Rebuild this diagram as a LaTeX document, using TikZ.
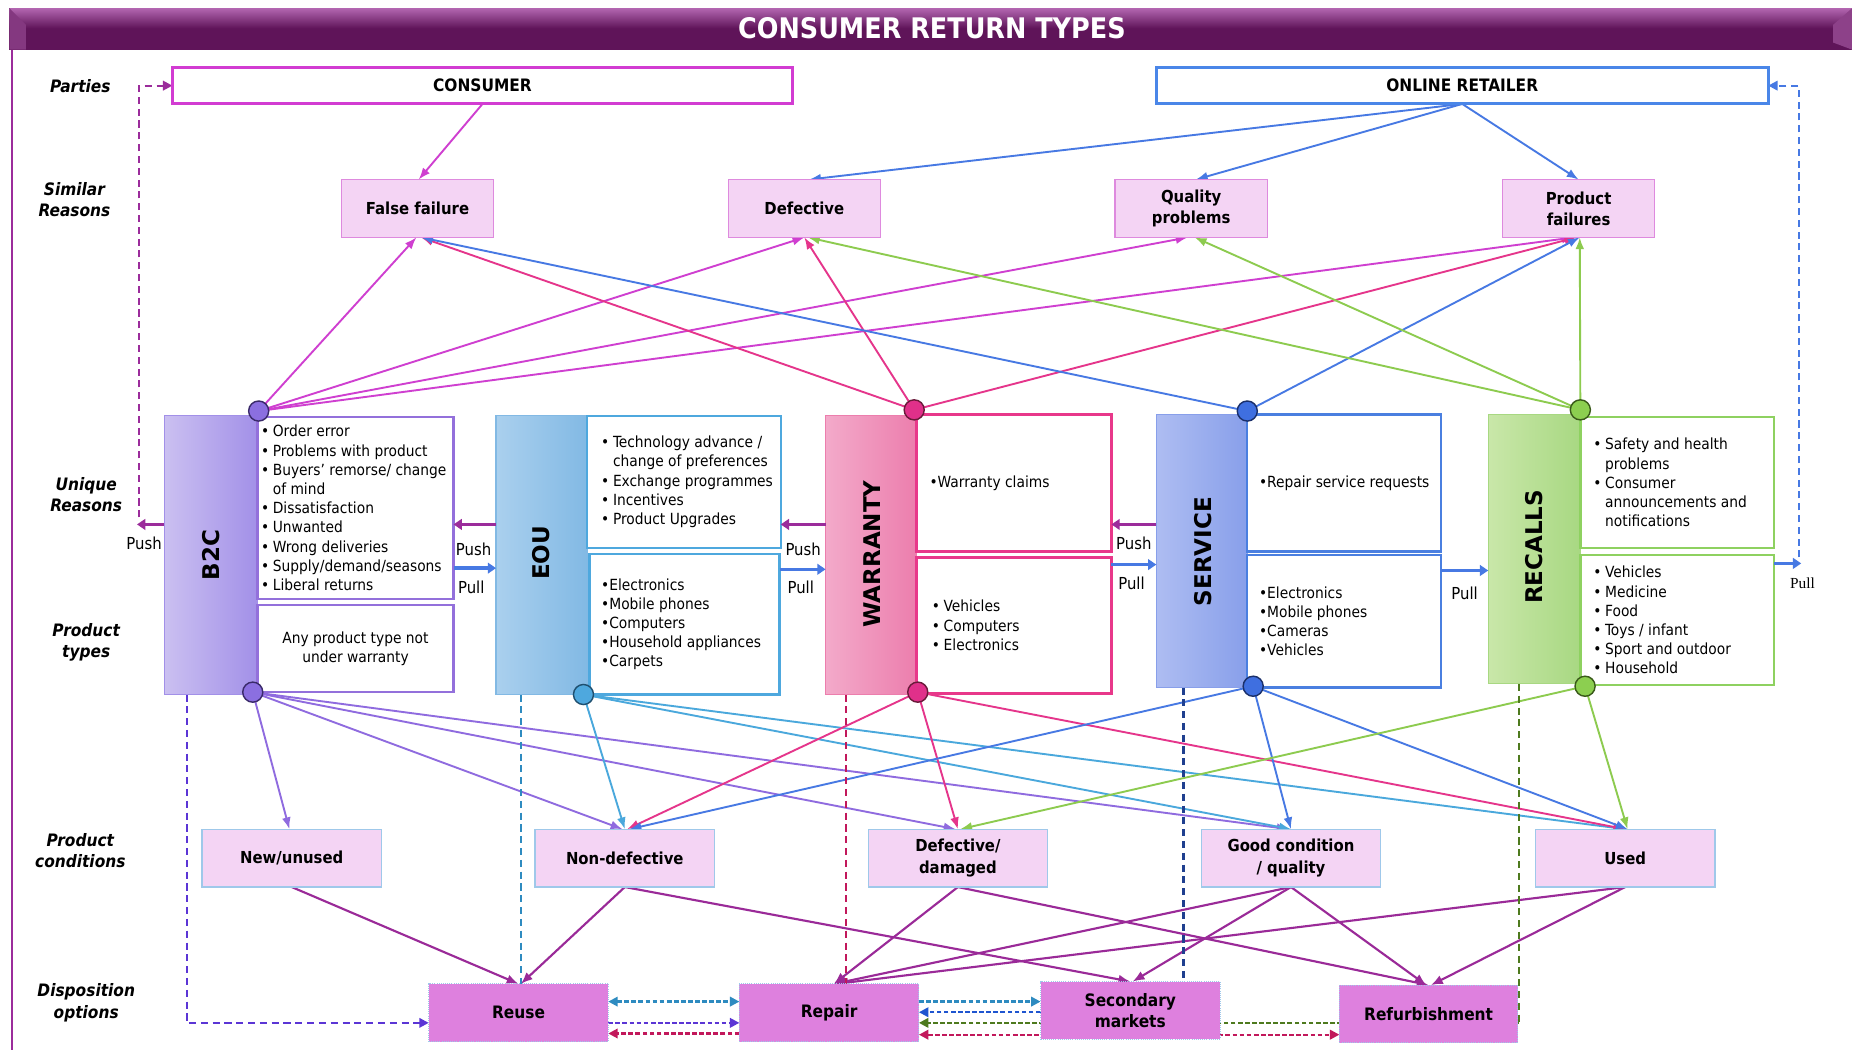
\documentclass[tikz,border=0pt]{standalone}
\usepackage{fontspec}
\setmainfont{DejaVu Sans Condensed}
\newfontfamily\barfont{DejaVu Sans}
\newfontfamily\serfont{Liberation Serif}
\usetikzlibrary{arrows.meta,calc}

\definecolor{titleD}{HTML}{5F1459}
\definecolor{titleL}{HTML}{B265B0}
\definecolor{frameP}{HTML}{9B2C9B}
\definecolor{magL}{HTML}{CF3FD0}
\definecolor{pinkL}{HTML}{E5358B}
\definecolor{blueL}{HTML}{4779E3}
\definecolor{greenL}{HTML}{8DCB4F}
\definecolor{purpL}{HTML}{8F6BDF}
\definecolor{cyanL}{HTML}{4AA8DC}
\definecolor{dispL}{HTML}{9A2A98}
\definecolor{simF}{HTML}{F4D4F4}
\definecolor{simB}{HTML}{DE8ADE}
\definecolor{condB}{HTML}{9FC8EA}
\definecolor{dispF}{HTML}{DE80DE}
\definecolor{conB}{HTML}{D23CD2}
\definecolor{onB}{HTML}{4A86E8}
% column colours
\definecolor{b2cLo}{HTML}{CBC0F1}\definecolor{b2cHi}{HTML}{A290E8}\definecolor{b2cB}{HTML}{9370DB}
\definecolor{eouLo}{HTML}{AAD0EE}\definecolor{eouHi}{HTML}{82B9E4}\definecolor{eouB}{HTML}{4EA8DE}
\definecolor{warLo}{HTML}{F3AACA}\definecolor{warHi}{HTML}{EC7EAD}\definecolor{warB}{HTML}{E8388A}
\definecolor{serLo}{HTML}{AEBDF2}\definecolor{serHi}{HTML}{889FEA}\definecolor{serB}{HTML}{4A7FE0}
\definecolor{recLo}{HTML}{C9E7A9}\definecolor{recHi}{HTML}{A8D882}\definecolor{recB}{HTML}{8ED160}
\definecolor{b2cDot}{HTML}{8B6FE0}\definecolor{b2cDk}{HTML}{3A2A6A}
\definecolor{eouDot}{HTML}{4EA8DE}\definecolor{eouDk}{HTML}{1F4F6F}
\definecolor{warDot}{HTML}{E0308A}\definecolor{warDk}{HTML}{6A1A3A}
\definecolor{serDot}{HTML}{3F6FE0}\definecolor{serDk}{HTML}{1A2F6A}
\definecolor{recDot}{HTML}{8CCF50}\definecolor{recDk}{HTML}{3A5A1A}
% dashed flow colours
\definecolor{flowPur}{HTML}{5B35D5}
\definecolor{flowTeal}{HTML}{2E8BC0}
\definecolor{flowMag}{HTML}{C2185B}
\definecolor{flowBlue}{HTML}{1F55D0}
\definecolor{flowNavy}{HTML}{1F3F8F}
\definecolor{flowGrn}{HTML}{4E7A1E}

\newcommand\bi{\makebox[10pt][l]{•}}
\newcommand\bc{\hspace*{10pt}}

\pgfdeclarelayer{paper}
\pgfdeclarelayer{bg}
\pgfsetlayers{paper,bg,main}

\tikzset{
  every node/.style={inner sep=0pt, outer sep=0pt},
  rowlbl/.style={font=\fontsize{14.5}{18}\selectfont\bfseries\itshape, align=center},
  party/.style={draw=#1, line width=2.5pt, fill=white, minimum height=31pt,
    font=\fontsize{14.5}{18}\selectfont\bfseries},
  simbox/.style={draw=simB, fill=simF, line width=1pt, minimum width=129pt,
    minimum height=49pt, font=\fontsize{14}{18}\selectfont\bfseries, align=center},
  condbox/.style={draw=condB, fill=simF, line width=1pt, minimum width=152pt,
    minimum height=49pt, font=\fontsize{14}{18}\selectfont\bfseries, align=center},
  dispbox/.style={draw=condB, densely dotted, fill=dispF, line width=0.8pt, minimum width=152pt,
    minimum height=49pt, font=\fontsize{14.5}{18}\selectfont\bfseries, align=center},
  colbar/.style 2 args={left color=#1, right color=#2, draw=#2, line width=1pt},
  vlab/.style={font=\barfont\fontsize{19.5}{22}\selectfont\bfseries, rotate=90},
  txtbox/.style={draw=#1, line width=2pt, fill=white},
  bul/.style={font=\fontsize{13}{16.25}\selectfont, align=left},
  hub/.style 2 args={circle, fill=#1, draw=#2, line width=1.2pt, minimum size=17pt},
  pplbl/.style={font=\fontsize{14}{16}\selectfont},
  lk/.style={line width=1.6pt, draw=#1, -{Latex[length=10pt,width=7.5pt]}},
  dk/.style={line width=1.8pt, draw=dispL, -{Latex[length=10pt,width=8pt]}},
  pushA/.style={line width=3pt, draw=#1, -{Triangle[length=7pt,width=9pt]}},
  vdash/.style={line width=1.8pt, draw=#1, dash pattern=on 6pt off 4pt},
  hdash/.style={line width=1.9pt, draw=#1, dash pattern=on 4pt off 2pt},
  tipT/.tip={Triangle[length=8pt,width=8pt]},
}

\begin{document}
\begin{tikzpicture}[x=1pt,y=-1pt]
\useasboundingbox (0,0) rectangle (1568,889);
\begin{pgfonlayer}{paper}
\fill[white] (0,0) rectangle (1568,889);
\end{pgfonlayer}

% title bar and frame
\fill[titleD] (8,7) rectangle (1568,42);
\shade[top color=titleL, bottom color=titleD] (8,7) rectangle (1568,24);
\fill[titleL!45!titleD] (8,7) -- (22,21) -- (22,42) -- (8,42) -- cycle;
\fill[titleL!55!titleD] (1568,7) -- (1552,21) -- (1552,36) -- (1568,42) -- cycle;
\node[font=\fontsize{24}{26}\selectfont\bfseries, text=white] (title) at (789,24) {CONSUMER RETURN TYPES};
\draw[frameP, line width=2pt] (10,42) -- (10,889);

% row labels
\node[rowlbl] (rl1) at (68,73) {Parties};
\node[rowlbl] (rl2) at (63,169) {Similar\\Reasons};
\node[rowlbl] (rl3) at (73,419) {Unique\\Reasons};
\node[rowlbl] (rl4) at (73,544) {Product\\types};
\node[rowlbl] (rl5) at (68,720) {Product\\conditions};
\node[rowlbl] (rl6) at (73,849) {Disposition\\options};

% parties
\node[party=conB, minimum width=525pt] (consumer) at (408.5,72.5) {CONSUMER};
\node[party=onB, minimum width=518pt] (online) at (1238,72.5) {ONLINE RETAILER};

% similar reasons
\node[simbox] (ff) at (353.5,176.5) {False failure};
\node[simbox] (def) at (681,176.5) {Defective};
\node[simbox] (qp) at (1008.5,176.5) {Quality\\problems};
\node[simbox] (pf) at (1336.5,176.5) {Product\\failures};

% B2C column
\node[colbar={b2cLo}{b2cHi}, minimum width=79pt, minimum height=236pt] (b2c) at (178.5,470) {};
\node[vlab] (b2cV) at (178.5,470) {B2C};
\node[txtbox=b2cB, minimum width=166pt, minimum height=154pt] (b2cR) at (301,430) {};
\node[bul, anchor=west] (b2cRt) at ([xshift=3pt]b2cR.west) {\bi Order error\\\bi Problems with product\\\bi Buyers’ remorse/ change\\\bc of mind\\\bi Dissatisfaction\\\bi Unwanted\\\bi Wrong deliveries\\\bi Supply/demand/seasons\\\bi Liberal returns};
\node[txtbox=b2cB, minimum width=166pt, minimum height=74pt] (b2cP) at (301,549) {};
\node[bul, align=center] (b2cPt) at (b2cP) {Any product type not\\under warranty};

% EOU column
\node[colbar={eouLo}{eouHi}, minimum width=77pt, minimum height=236pt] (eou) at (458.5,470) {};
\node[vlab] (eouV) at (458.5,468) {EOU};
\node[txtbox=eouB, minimum width=164pt, minimum height=112pt] (eouR) at (579,408) {};
\node[bul, anchor=west] (eouRt) at ([xshift=12pt]eouR.west) {\bi Technology advance /\\\bc change of preferences\\\bi Exchange programmes\\\bi Incentives\\\bi Product Upgrades};
\node[txtbox=eouB, minimum width=161pt, minimum height=119pt] (eouP) at (579.5,528.5) {};
\node[bul, anchor=west] (eouPt) at ([xshift=10pt]eouP.west) {•Electronics\\•Mobile phones\\•Computers\\•Household appliances\\•Carpets};

% WARRANTY column
\node[colbar={warLo}{warHi}, minimum width=77pt, minimum height=236pt] (war) at (737.5,470) {};
\node[vlab] (warV) at (738,469) {WARRANTY};
\node[txtbox=warB, minimum width=165pt, minimum height=116pt] (warR) at (858.5,409) {};
\node[bul, anchor=west] (warRt) at ([xshift=11pt]warR.west) {•Warranty claims};
\node[txtbox=warB, minimum width=165pt, minimum height=115pt] (warP) at (858.5,529.5) {};
\node[bul, anchor=west] (warPt) at ([xshift=13pt]warP.west) {\bi Vehicles\\\bi Computers\\\bi Electronics};

% SERVICE column
\node[colbar={serLo}{serHi}, minimum width=77pt, minimum height=231pt] (ser) at (1017.5,466.5) {};
\node[vlab] (serV) at (1019,467) {SERVICE};
\node[txtbox=serB, minimum width=164pt, minimum height=116pt] (serR) at (1138,409) {};
\node[bul, anchor=west] (serRt) at ([xshift=10pt]serR.west) {•Repair service requests};
\node[txtbox=serB, minimum width=164pt, minimum height=112pt] (serP) at (1138,526) {};
\node[bul, anchor=west] (serPt) at ([xshift=10pt]serP.west) {•Electronics\\•Mobile phones\\•Cameras\\•Vehicles};

% RECALLS column
\node[colbar={recLo}{recHi}, minimum width=78pt, minimum height=228pt] (rec) at (1299,465) {};
\node[vlab] (recV) at (1299,463) {RECALLS};
\node[txtbox=recB, minimum width=164pt, minimum height=111pt] (recR) at (1420,408.5) {};
\node[bul, anchor=west] (recRt) at ([xshift=11pt]recR.west) {\bi Safety and health\\\bc problems\\\bi Consumer\\\bc announcements and\\\bc notifications};
\node[txtbox=recB, minimum width=164pt, minimum height=110pt] (recP) at (1420,525) {};
\node[bul, anchor=west] (recPt) at ([xshift=11pt]recP.west) {\bi Vehicles\\\bi Medicine\\\bi Food\\\bi Toys / infant\\\bi Sport and outdoor\\\bi Household};

% hubs
\node[hub={b2cDot}{b2cDk}] (b2cT) at (219,348) {};
\node[hub={b2cDot}{b2cDk}] (b2cB) at (214,586) {};
\node[hub={eouDot}{eouDk}] (eouBt) at (494,588) {};
\node[hub={warDot}{warDk}] (warT) at (774,347) {};
\node[hub={warDot}{warDk}] (warBt) at (777,586) {};
\node[hub={serDot}{serDk}] (serT) at (1056,348) {};
\node[hub={serDot}{serDk}] (serBt) at (1061,581) {};
\node[hub={recDot}{recDk}] (recT) at (1338,347) {};
\node[hub={recDot}{recDk}] (recBt) at (1342,581) {};

% product conditions
\node[condbox] (nu) at (247,726.5) {New/unused};
\node[condbox] (nd) at (529,726.5) {Non-defective};
\node[condbox] (dd) at (811,726.5) {Defective/\\damaged};
\node[condbox] (gc) at (1093,726.5) {Good condition\\/ quality};
\node[condbox] (used) at (1376,726.5) {Used};

% disposition options
\node[dispbox] (reuse) at (439,857.5) {Reuse};
\node[dispbox] (repair) at (702,857.5) {Repair};
\node[dispbox] (sec) at (957,855.5) {Secondary\\markets};
\node[dispbox, minimum width=151pt] (refurb) at (1209.5,858.5) {Refurbishment};

% push / pull between columns
\coordinate (lpush) at (116,444);
\coordinate (lloop) at (118,438);
\coordinate (rpull) at (1525,477);
\coordinate (rloop) at (1523,472);
\draw[pushA=frameP] ([yshift=26pt]b2c.west) -- (lpush);
\draw[pushA=frameP] ([yshift=26pt]eou.west) -- ([yshift=26pt]eou.west -| b2cR.east);
\draw[pushA=blueL] ([yshift=-11pt]eou.west -| b2cR.east) -- ([yshift=-11pt]eou.west);
\draw[pushA=frameP] ([yshift=26pt]war.west) -- ([yshift=26pt]war.west -| eouR.east);
\draw[pushA=blueL] ([yshift=-12pt]war.west -| eouP.east) -- ([yshift=-12pt]war.west);
\draw[pushA=frameP] ([yshift=22.5pt]ser.west) -- ([yshift=22.5pt]ser.west -| warR.east);
\draw[pushA=blueL] ([yshift=-11.5pt]ser.west -| warP.east) -- ([yshift=-11.5pt]ser.west);
\draw[pushA=blueL] ([yshift=-18pt]rec.west -| serP.east) -- ([yshift=-18pt]rec.west);
\draw[pushA=blueL] ([yshift=48pt]recP.east) -- (rpull);

\node[pplbl] (pu0) at (122,460) {Push};
\node[pplbl] (pu1) at (401,465) {Push};
\node[pplbl] (pl1) at (399,497) {Pull};
\node[pplbl] (pu2) at (680,465) {Push};
\node[pplbl] (pl2) at (678,497) {Pull};
\node[pplbl] (pu3) at (960,460) {Push};
\node[pplbl] (pl3) at (958,494) {Pull};
\node[pplbl] (pl4) at (1240,502) {Pull};
\node[font=\serfont\fontsize{13}{15}\selectfont] (pl5) at (1526,494) {Pull};

\begin{pgfonlayer}{bg}
% loops back to the parties
\draw[vdash=frameP, -tipT] (lloop) |- (consumer.west);
\draw[vdash=blueL, -tipT] (rloop) |- (online.east);

% parties to similar reasons
\draw[lk=magL] (consumer.south) -- ([xshift=1pt]ff.north);
\draw[lk=blueL] (online.south) -- ([xshift=4pt]def.north);
\draw[lk=blueL] (online.south) -- ([xshift=4pt]qp.north);
\draw[lk=blueL] (online.south) -- (pf.north);

% unique reasons to similar reasons
\draw[lk=magL] (b2cT) -- ([xshift=-1pt]ff.south);
\draw[lk=magL] (b2cT) -- (def.south);
\draw[lk=magL] (b2cT) -- ([xshift=-3pt]qp.south);
\draw[lk=magL] (b2cT) -- ([xshift=-4pt]pf.south);
\draw[lk=pinkL] (warT) -- ([xshift=3pt]ff.south);
\draw[lk=pinkL] (warT) -- (def.south);
\draw[lk=pinkL] (warT) -- ([xshift=-2pt]pf.south);
\draw[lk=blueL] (serT) -- ([xshift=3pt]ff.south);
\draw[lk=blueL] (serT) -- ([xshift=1pt]pf.south);
\draw[lk=greenL] (recT) -- ([xshift=3pt]def.south);
\draw[lk=greenL] (recT) -- ([xshift=3pt]qp.south);
\draw[lk=greenL] (recT) -- ([xshift=1pt]pf.south);

% unique reasons to product conditions
\draw[lk=purpL] (b2cB) -- ([xshift=-2pt]nu.north);
\draw[lk=purpL] (b2cB) -- ([xshift=-2pt]nd.north);
\draw[lk=purpL] (b2cB) -- ([xshift=-2pt]dd.north);
\draw[lk=purpL] (b2cB) -- ([xshift=-2pt]gc.north);
\draw[lk=cyanL] (eouBt) -- (nd.north);
\draw[lk=cyanL] (eouBt) -- (gc.north);
\draw[lk=cyanL] (eouBt) -- (used.north);
\draw[lk=pinkL] (warBt) -- ([xshift=2pt]nd.north);
\draw[lk=pinkL] (warBt) -- (dd.north);
\draw[lk=pinkL] (warBt) -- (used.north);
\draw[lk=blueL] (serBt) -- ([xshift=4pt]nd.north);
\draw[lk=blueL] (serBt) -- (gc.north);
\draw[lk=blueL] (serBt) -- ([xshift=2pt]used.north);
\draw[lk=greenL] (recBt) -- ([xshift=2pt]dd.north);
\draw[lk=greenL] (recBt) -- ([xshift=2pt]used.north);

% product conditions to disposition options
\draw[dk] (nu.south) -- (reuse.north);
\draw[dk] (nd.south) -- ([xshift=2pt]reuse.north);
\draw[dk] (nd.south) -- (sec.north);
\draw[dk] (dd.south) -- ([xshift=4pt]repair.north);
\draw[dk] (dd.south) -- (refurb.north);
\draw[dk] (gc.south) -- ([xshift=4pt]repair.north);
\draw[dk] (gc.south) -- ([xshift=2pt]sec.north);
\draw[dk] (gc.south) -- ([xshift=-2pt]refurb.north);
\draw[dk] (used.south) -- ([xshift=6pt]repair.north);
\draw[dk] (used.south) -- ([xshift=2pt]refurb.north);

% dashed flows from each column
\coordinate (b2cD) at ([xshift=-20.5pt]b2c.south);
\coordinate (eouD) at ([xshift=-17.5pt]eou.south);
\coordinate (warD) at ([xshift=-21.5pt]war.south);
\coordinate (serD) at ([xshift=-15.5pt]ser.south);
\coordinate (recD) at ([xshift=-13pt]rec.south);
\coordinate (repG) at ([yshift=-8.5pt]repair.east);
\coordinate (recCorner) at (recD |- repG);
\draw[vdash=flowPur, -tipT] (b2cD) |- ([yshift=-8.5pt]reuse.west);
\draw[vdash=flowTeal] (eouD) -- (eouD |- reuse.north);
\draw[vdash=flowMag] (warD) -- (warD |- repair.north);
\draw[vdash=flowNavy] (serD) -- (serD |- sec.north);
\draw[vdash=flowGrn] (recD) -- (recCorner);
\draw[hdash=flowGrn, -tipT] (recCorner) -- (repG);

% flows between disposition options
\draw[hdash=flowTeal, tipT-tipT] ([yshift=9.5pt]reuse.east) -- ([yshift=9.5pt]reuse.east -| repair.west);
\draw[hdash=flowPur, -tipT] ([yshift=-8.5pt]reuse.east) -- ([yshift=-8.5pt]reuse.east -| repair.west);
\draw[hdash=flowMag, -tipT] ([yshift=-17.5pt]repair.west) -- ([yshift=-17.5pt]repair.west -| reuse.east);
\draw[hdash=flowTeal, -tipT] ([yshift=9.5pt]repair.east) -- ([yshift=9.5pt]repair.east -| sec.west);
\draw[hdash=flowBlue, -tipT] ([yshift=-1.5pt]sec.west) -- ([yshift=-1.5pt]sec.west -| repair.east);
\draw[hdash=flowMag, tipT-tipT] ([yshift=-18.5pt]repair.east) -- ([yshift=-18.5pt]repair.east -| refurb.west);
\end{pgfonlayer}
\end{tikzpicture}
\end{document}
